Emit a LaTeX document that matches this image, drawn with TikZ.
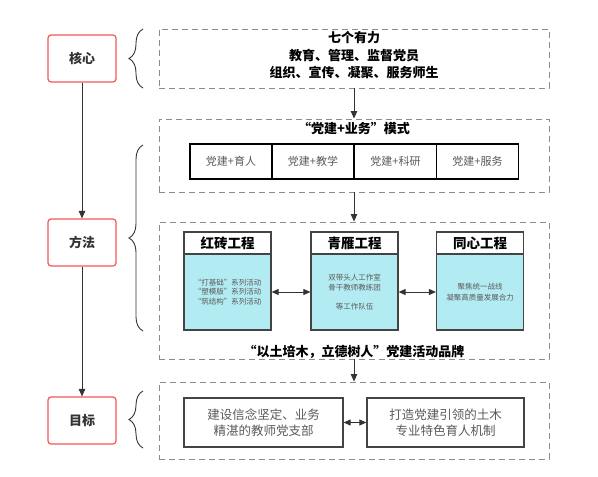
\documentclass[tikz,border=0pt]{standalone}
\usepackage{fontspec}
\setmainfont{Noto Sans CJK SC}
\usetikzlibrary{arrows.meta,decorations.pathreplacing}
\definecolor{redc}{RGB}{242,88,88}
\definecolor{txt}{RGB}{51,51,51}
\definecolor{dashc}{RGB}{140,140,140}
\definecolor{cyanf}{RGB}{178,235,242}
\definecolor{graytxt}{RGB}{90,90,90}
\definecolor{edge}{RGB}{68,68,68}
\tikzset{
  redbox/.style={draw=redc, line width=1.2pt, rounded corners=3pt, minimum width=68pt, minimum height=47pt, inner sep=0pt, font=\fontsize{13}{15}\selectfont\bfseries, text=txt},
  dbox/.style={draw=dashc, dash pattern=on 6pt off 4pt, line width=0.9pt, inner sep=0pt, minimum width=390pt},
  cell/.style={draw=black, line width=1.2pt, minimum width=82pt, minimum height=35pt, inner sep=0pt, font=\fontsize{11}{13}\selectfont, text=graytxt},
  head/.style={draw=edge, line width=1.2pt, fill=white, minimum width=87pt, minimum height=22pt, inner sep=0pt, font=\fontsize{13.5}{15}\selectfont\bfseries, text=black},
  body/.style={draw=edge, line width=1.2pt, fill=cyanf, minimum width=87pt, minimum height=76pt, inner sep=0pt, font=\fontsize{7.5}{9.5}\selectfont, align=center, text=graytxt},
  goal/.style={draw=edge, line width=1.3pt, minimum height=49pt, inner sep=0pt, font=\fontsize{12.5}{16}\selectfont, text=graytxt, align=center},
  title/.style={font=\fontsize{13}{17.5}\selectfont\bfseries, text=black, align=center, inner sep=0pt},
  arr/.style={-{Triangle[length=7.5pt,width=6.5pt]}, draw=txt, line width=0.9pt},
  darr/.style={{Triangle[length=7pt,width=6pt]}-{Triangle[length=7pt,width=6pt]}, draw=txt, line width=0.9pt},
  brc/.style={decorate, decoration={brace, amplitude=14pt}, draw=txt, line width=0.9pt}
}
\begin{document}
\begin{tikzpicture}[x=1pt,y=-1pt]
\useasboundingbox[fill=white] (0,0) rectangle (598,477);
% left column
\node[redbox] (hx) at (82,58.5) {核心};
\node[redbox] (ff) at (82,242.5) {方法};
\node[redbox] (mb) at (82,420.5) {目标};
\draw[arr] (hx.south) -- (ff.north);
\draw[arr] (ff.south) -- (mb.north);
% braces
\coordinate (b1s) at (143,88);
\coordinate (b1e) at (143,29);
\coordinate (b2s) at (143,331);
\coordinate (b2e) at (143,145);
\coordinate (b3s) at (143,448);
\coordinate (b3e) at (143,391);
\draw[brc] (b1s) -- (b1e);
\draw[brc] (b2s) -- (b2e);
\draw[brc] (b3s) -- (b3e);
% dashed boxes
\node[dbox, minimum height=59pt] (box1) at (354,58.5) {};
\node[dbox, minimum height=73pt] (box2) at (354,155.5) {};
\node[dbox, minimum height=137pt] (box3) at (354,290.5) {};
\node[dbox, minimum height=77pt] (box4) at (354,420.5) {};
\draw[arr] (box1.south) -- (box2.north);
\draw[arr] (box2.south) -- (box3.north);
\draw[arr] (box3.south) -- (box4.north);
% box1 text
\node[title] (t1) at (354,55.5) {七个有力\\教育、管理、监督党员\\组织、宣传、凝聚、服务师生};
% box2
\node[title] (t2) at (354,128.5) {“党建+业务”模式};
\node[cell] (c1) at (231,161.5) {党建+育人};
\node[cell] (c2) at (313,161.5) {党建+教学};
\node[cell] (c3) at (395.5,161.5) {党建+科研};
\node[cell] (c4) at (477.5,161.5) {党建+服务};
% box3
\node[body] (rb) at (227.5,292) {“打基础”系列活动\\“塑模版”系列活动\\“筑结构”系列活动};
\node[head] (rh) at (227.5,243) {红砖工程};
\node[body] (qb) at (354.5,292) {双带头人工作室\\骨干教师教练团\\[9.5pt]等工作队伍};
\node[head] (qh) at (354.5,243) {青雁工程};
\node[body] (tb) at (480,292) {聚焦统一战线\\[2pt]凝聚高质量发展合力};
\node[head] (th) at (480,243) {同心工程};
\draw[darr] (rb.east) -- (qb.west);
\draw[darr] (qb.east) -- (tb.west);
\node[title] (t3) at (354,352) {“以土培木，立德树人”党建活动品牌};
% box4
\node[goal, minimum width=159pt] (g1) at (263.5,422.5) {建设信念坚定、业务\\精湛的教师党支部};
\node[goal, minimum width=157pt] (g2) at (445.5,422.5) {打造党建引领的土木\\专业特色育人机制};
\draw[darr] (g1.east) -- (g2.west);
\end{tikzpicture}
\end{document}
